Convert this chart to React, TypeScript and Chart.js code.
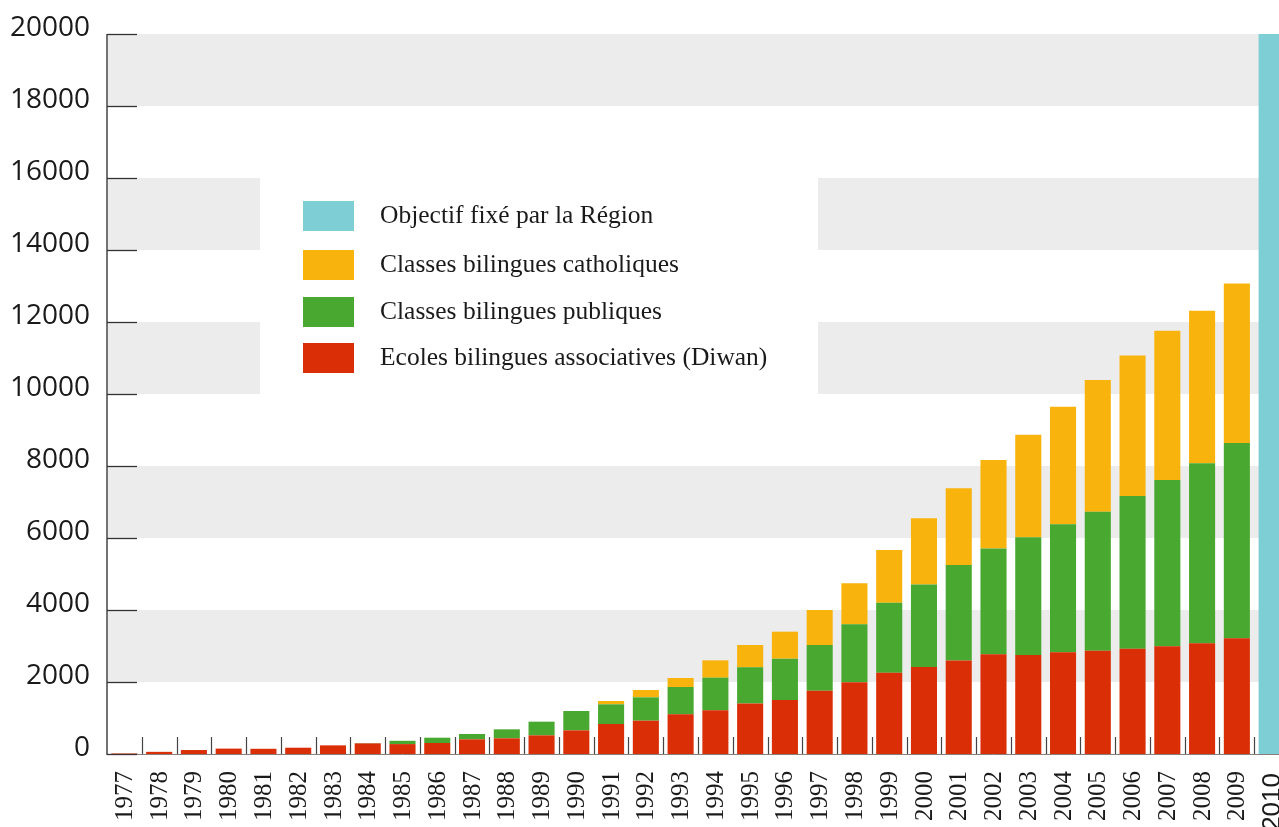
import React, { useEffect, useRef } from "react";
import { Chart, registerables } from "chart.js";
Chart.register(...registerables);

const years = [
  "1977", "1978", "1979", "1980", "1981", "1982", "1983", "1984", "1985", "1986",
  "1987", "1988", "1989", "1990", "1991", "1992", "1993", "1994", "1995", "1996",
  "1997", "1998", "1999", "2000", "2001", "2002", "2003", "2004", "2005", "2006",
  "2007", "2008", "2009", "2010",
];

const diwan = [
  15, 60, 110, 150, 145, 175, 240, 295, 275, 305,
  407, 435, 518, 657, 833, 926, 1102, 1213, 1400, 1500,
  1759, 1991, 2259, 2420, 2600, 2769, 2750, 2825, 2870, 2926,
  2991, 3074, 3213, null,
];

const publiques = [
  0, 0, 0, 0, 0, 0, 0, 10, 92, 148,
  148, 250, 380, 537, 547, 648, 759, 907, 1007, 1148,
  1269, 1611, 1945, 2285, 2650, 2941, 3270, 3560, 3858, 4241,
  4620, 5000, 5427, null,
];

const catholiques = [
  0, 0, 0, 0, 0, 0, 0, 0, 0, 0,
  0, 0, 0, 0, 92, 204, 250, 482, 621, 750,
  972, 1139, 1463, 1845, 2135, 2457, 2850, 3260, 3661, 3903,
  4149, 4236, 4430, null,
];

const objectif = [
  null, null, null, null, null, null, null, null, null, null,
  null, null, null, null, null, null, null, null, null, null,
  null, null, null, null, null, null, null, null, null, null,
  null, null, null, 20000,
];

const yTicks = [0, 2000, 4000, 6000, 8000, 10000, 12000, 14000, 16000, 18000, 20000];
const greyBands = [
  [2000, 4000],
  [6000, 8000],
  [10000, 12000],
  [14000, 16000],
  [18000, 20000],
];

const seriesLabels = [
  "Ecoles bilingues associatives (Diwan)",
  "Classes bilingues publiques",
  "Classes bilingues catholiques",
  "Objectif fixé par la Région",
];
const seriesColors = ["#d92e06", "#48a830", "#f8b30c", "#7ecfd5"];

const FONT_Y = "28px 'Open Sans'";
const FONT_X = "25px 'Liberation Serif'";
const FONT_X_LAST = "26px 'Liberation Sans'";
const FONT_LEGEND = "25.5px 'Liberation Serif'";

const decoPlugin = {
  id: "deco",
  beforeDatasetsDraw(chart: any) {
    const { ctx, chartArea: a, scales } = chart;
    const y = scales.y;
    ctx.save();
    ctx.fillStyle = "#ececec";
    for (const [lo, hi] of greyBands) {
      const y1 = y.getPixelForValue(hi);
      const y2 = y.getPixelForValue(lo);
      ctx.fillRect(a.left + 1, y1, a.right - a.left, y2 - y1);
    }
    // legend white panel
    ctx.fillStyle = "#ffffff";
    ctx.fillRect(260, y.getPixelForValue(17000), 558, y.getPixelForValue(9000) - y.getPixelForValue(17000));
    ctx.restore();
  },
  afterDatasetsDraw(chart: any) {
    const { ctx, chartArea: a, scales } = chart;
    const x = scales.x;
    const y = scales.y;
    const y0 = y.getPixelForValue(0);
    ctx.save();
    // x axis line
    ctx.strokeStyle = "#8a7e78";
    ctx.lineWidth = 1;
    ctx.beginPath();
    ctx.moveTo(a.left, y0 + 0.5);
    ctx.lineTo(a.right, y0 + 0.5);
    ctx.stroke();
    // y axis line
    ctx.strokeStyle = "#444";
    ctx.lineWidth = 1.5;
    ctx.beginPath();
    ctx.moveTo(a.left, y.getPixelForValue(20000));
    ctx.lineTo(a.left, y0 + 1);
    ctx.stroke();
    // y ticks and labels
    ctx.font = FONT_Y;
    ctx.fillStyle = "#1a1a1a";
    ctx.textAlign = "right";
    ctx.textBaseline = "alphabetic";
    for (const t of yTicks) {
      const py = Math.round(y.getPixelForValue(t)) + 0.5;
      ctx.strokeStyle = "#333";
      ctx.lineWidth = 1.3;
      ctx.beginPath();
      ctx.moveTo(a.left, py);
      ctx.lineTo(a.left + 30, py);
      ctx.stroke();
      ctx.fillText(String(t), 90, py + 1);
    }
    // x ticks at category boundaries
    ctx.strokeStyle = "#444";
    ctx.lineWidth = 1.2;
    for (let i = 1; i < years.length; i++) {
      const bx = Math.round((x.getPixelForValue(i - 1) + x.getPixelForValue(i)) / 2) + 0.5;
      ctx.beginPath();
      ctx.moveTo(bx, y0 - 17);
      ctx.lineTo(bx, y0);
      ctx.stroke();
    }
    // x labels
    ctx.fillStyle = "#1a1a1a";
    for (let i = 0; i < years.length; i++) {
      const cx = x.getPixelForValue(i);
      const last = i === years.length - 1;
      ctx.save();
      ctx.translate(cx, last ? 773 : 771);
      ctx.rotate(-Math.PI / 2);
      ctx.textAlign = "right";
      ctx.textBaseline = "middle";
      ctx.font = last ? FONT_X_LAST : FONT_X;
      ctx.fillText(years[i], 0, 1);
      ctx.restore();
    }
    // legend
    const order = [3, 2, 1, 0];
    const rowsY = [216, 265, 312, 358];
    ctx.font = FONT_LEGEND;
    ctx.textAlign = "left";
    ctx.textBaseline = "middle";
    order.forEach((k, r) => {
      ctx.fillStyle = seriesColors[k];
      ctx.fillRect(303, rowsY[r] - 15, 51, 30);
      ctx.fillStyle = "#1a1a1a";
      ctx.fillText(seriesLabels[k], 380, rowsY[r]);
    });
    ctx.restore();
  },
};

export default function App() {
  const ref = useRef<HTMLCanvasElement | null>(null);
  useEffect(() => {
    let chart: any = null;
    let cancelled = false;
    const build = () => {
      if (cancelled || !ref.current) return;
      chart = new Chart(ref.current, {
        type: "bar",
        data: {
          labels: years,
          datasets: [
            { label: seriesLabels[0], data: diwan, backgroundColor: seriesColors[0] },
            { label: seriesLabels[1], data: publiques, backgroundColor: seriesColors[1] },
            { label: seriesLabels[2], data: catholiques, backgroundColor: seriesColors[2] },
            { label: seriesLabels[3], data: objectif, backgroundColor: seriesColors[3] },
          ].map((d) => ({ ...d, barPercentage: 0.75, categoryPercentage: 1, borderWidth: 0 })),
        },
        options: {
          responsive: false,
          animation: false,
          devicePixelRatio: 1,
          layout: { padding: { left: 107, right: 1, top: 34, bottom: 73 } },
          plugins: { legend: { display: false }, tooltip: { enabled: false } },
          scales: {
            x: { stacked: true, display: false },
            y: { stacked: true, display: false, min: 0, max: 20000 },
          },
        },
        plugins: [decoPlugin],
      });
    };
    const fonts: any = (document as any).fonts;
    if (fonts && fonts.load) {
      Promise.all([FONT_Y, FONT_X, FONT_X_LAST, FONT_LEGEND].map((f) => fonts.load(f, "0123456789Éé")))
        .catch(() => null)
        .then(build);
    } else {
      build();
    }
    return () => {
      cancelled = true;
      if (chart) chart.destroy();
    };
  }, []);
  return (
    <div style={{ position: "fixed", left: 0, top: 0, width: 1279, height: 827, overflow: "hidden", background: "#fff" }}>
      <canvas ref={ref} width={1290} height={827} style={{ display: "block" }} />
    </div>
  );
}
